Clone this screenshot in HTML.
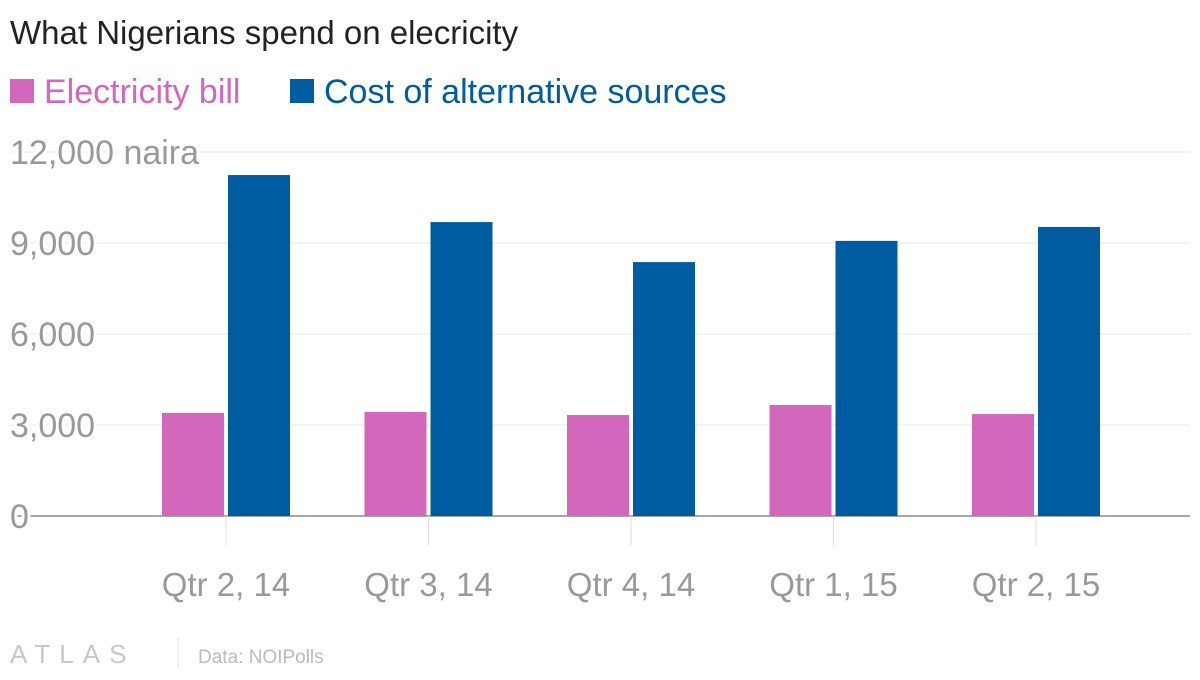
<!DOCTYPE html>
<html><head><meta charset="utf-8"><style>
body{margin:0;background:#fff;width:1200px;height:675px;overflow:hidden;font-family:"Liberation Sans",sans-serif}
</style></head><body>
<svg width="1200" height="675" xmlns="http://www.w3.org/2000/svg">
<rect width="1200" height="675" fill="#fff"/>
<text x="10" y="44" font-size="33" fill="#222">What Nigerians spend on elecricity</text>
<rect x="10" y="79" width="24" height="24" fill="#d367bb"/>
<text x="44" y="103" font-size="34" fill="#d367bb">Electricity bill</text>
<rect x="290" y="79" width="24" height="24" fill="#005ca0"/>
<text x="324" y="103" font-size="34" fill="#005ca0">Cost of alternative sources</text>
<g id="grid"></g><g id="bars"></g><g id="xaxis"></g>
<text x="10" y="663" font-size="26" fill="#c8c8c8" letter-spacing="9">ATLAS</text>
<line x1="178" y1="638" x2="178" y2="668" stroke="#ddd"/>
<text x="198" y="663" font-size="19" fill="#bbb">Data: NOIPolls</text>
</svg>
<script>
const categories=["Qtr 2, 14","Qtr 3, 14","Qtr 4, 14","Qtr 1, 15","Qtr 2, 15"];
const electricity=[3400,3430,3330,3660,3360];
const alternative=[11240,9690,8370,9070,9530];
const yTicks=[0,3000,6000,9000,12000];
const yTickLabels=["0","3,000","6,000","9,000","12,000 naira"];
const ns="http://www.w3.org/2000/svg";
const y0=516,pxPer=91/3000;
function yScale(v){return y0-v*pxPer;}
function xCenter(i){return 226+i*202.5;}
function mk(tag,attrs,parent){const e=document.createElementNS(ns,tag);for(const k in attrs)e.setAttribute(k,attrs[k]);parent.appendChild(e);return e;}
const grid=document.getElementById('grid'),bars=document.getElementById('bars'),xa=document.getElementById('xaxis');
yTicks.forEach((t,i)=>{
  const y=yScale(t);
  const l=mk('line',{x1:10,x2:1190,y1:y,y2:y,stroke:i==0?'#888':'#e8e8e8','stroke-width':i==0?1.5:1},grid);
  
  
  const tx=mk('text',{x:10,y:y+12,'font-size':34,fill:'#999',stroke:'#fff','stroke-width':6,'paint-order':'stroke'},grid);
  tx.textContent=yTickLabels[i];
  
  
});
categories.forEach((c,i)=>{
  const cx=xCenter(i);
  const b1=mk('rect',{x:cx-64,y:yScale(electricity[i]),width:62,height:electricity[i]*pxPer,fill:'#d367bb'},bars);
  
  
  const b2=mk('rect',{x:cx+2,y:yScale(alternative[i]),width:62,height:alternative[i]*pxPer,fill:'#005ca0'},bars);
  
  
  const tk=mk('line',{x1:cx,x2:cx,y1:y0,y2:545,stroke:'#ddd'},xa);
  
  
  const lb=mk('text',{x:cx,y:596,'font-size':33,fill:'#999','text-anchor':'middle'},xa);
  lb.textContent=c;
  
  
});
</script>
</body></html>
